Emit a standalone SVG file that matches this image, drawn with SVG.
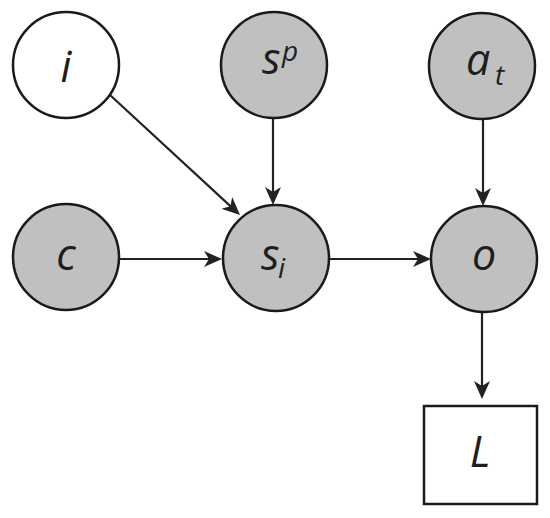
<svg xmlns="http://www.w3.org/2000/svg" width="550" height="518" viewBox="0 0 550 518">
<style>
.n{fill:#c0c0c0;stroke:#1a1a1a;stroke-width:2.5}
.w{fill:#ffffff;stroke:#1a1a1a;stroke-width:2.5}
.e{stroke:#222;stroke-width:2.2;fill:none}
.h{fill:#222;stroke:none}
.t{font-family:"Open Sans","Noto Sans",sans-serif;font-style:italic;font-size:43px;fill:#1e1e1e}
.s{font-family:"Open Sans","Noto Sans",sans-serif;font-style:italic;font-size:28px;fill:#1e1e1e}
</style>
<g id="connectors">
<line class="e" x1="110" y1="95" x2="231.2" y2="206.9"/>
<path class="h" d="M240,215 L221.35,208.68 L230.44,206.19 L232.19,196.92 Z"/>
<line class="e" x1="119" y1="259" x2="210" y2="259"/>
<path class="h" d="M222,259 L204,251 L209,259 L204,267 Z"/>
<line class="e" x1="273" y1="118" x2="273" y2="193"/>
<path class="h" d="M273,205 L265,187 L273,192 L281,187 Z"/>
<line class="e" x1="329" y1="259" x2="419" y2="259"/>
<path class="h" d="M431,259 L413,251 L418,259 L413,267 Z"/>
<line class="e" x1="483" y1="120" x2="483" y2="194"/>
<path class="h" d="M483,206 L475,188 L483,193 L491,188 Z"/>
<line class="e" x1="482" y1="312" x2="482" y2="387"/>
<path class="h" d="M482,399 L474,381 L482,386 L490,381 Z"/>
</g>
<g id="node-i">
<circle class="w" cx="66" cy="65" r="53"/>
<text class="t" x="66" y="82" text-anchor="middle">i</text>
</g>
<g id="node-sp">
<circle class="n" cx="274" cy="65" r="53"/>
<text class="t" x="262" y="74">s</text>
<text class="s" x="282" y="61">p</text>
</g>
<g id="node-at">
<circle class="n" cx="482" cy="66" r="53"/>
<text class="t" x="466" y="75">a</text>
<text class="s" x="495" y="85">t</text>
</g>
<g id="node-c">
<circle class="n" cx="66" cy="257" r="53"/>
<text class="t" x="66" y="270" text-anchor="middle">c</text>
</g>
<g id="node-si">
<circle class="n" cx="276" cy="258" r="53"/>
<text class="t" x="261" y="270">s</text>
<text class="s" x="278" y="278">i</text>
</g>
<g id="node-o">
<circle class="n" cx="484" cy="259" r="53"/>
<text class="t" x="484" y="270" text-anchor="middle">o</text>
</g>
<g id="node-L">
<rect class="w" x="424" y="406" width="113" height="98"/>
<text class="t" x="480" y="467" text-anchor="middle">L</text>
</g>
</svg>
